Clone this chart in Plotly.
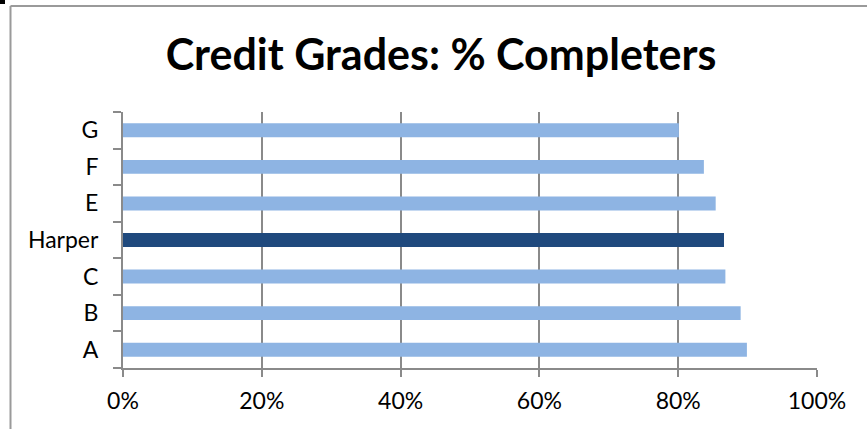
import plotly.graph_objects as go

# Share of completers by credit grade
grades = ["A", "B", "C", "Harper", "E", "F", "G"]
pct_completers = [0.899, 0.890, 0.868, 0.866, 0.854, 0.837, 0.801]
highlight = "Harper"

light_blue = "#8EB4E3"
dark_blue = "#1F497D"
bar_colors = [dark_blue if g == highlight else light_blue for g in grades]

x_ticks = [0, 0.2, 0.4, 0.6, 0.8, 1.0]
x_tick_labels = ["0%", "20%", "40%", "60%", "80%", "100%"]

W, H = 867, 429
ML, MR, MT, MB = 123, 50, 112, 61
line_gray = "#8A8A8A"

fig = go.Figure(
    go.Bar(
        x=pct_completers,
        y=grades,
        orientation="h",
        marker=dict(color=bar_colors, line=dict(width=0)),
        hoverinfo="x+y",
    )
)

fig.update_layout(
    width=W,
    height=H,
    margin=dict(l=ML, r=MR, t=MT, b=MB, pad=0),
    paper_bgcolor="white",
    plot_bgcolor="white",
    bargap=0.62,
    showlegend=False,
    font=dict(family="Lato, Open Sans, sans-serif", color="black"),
    title=dict(
        text="<b>Credit Grades: % Completers</b>",
        font=dict(family="Lato, Open Sans, sans-serif", size=43, color="black"),
        x=441 / W,
        xanchor="center",
        xref="container",
        y=1 - 55 / H,
        yanchor="middle",
    ),
)

fig.update_xaxes(
    range=[0, 1],
    tickvals=x_ticks,
    ticktext=x_tick_labels,
    showgrid=True,
    gridcolor=line_gray,
    gridwidth=2,
    zeroline=False,
    showline=True,
    linecolor=line_gray,
    linewidth=2,
    ticks="outside",
    ticklen=7,
    tickwidth=2,
    tickcolor=line_gray,
    tickfont=dict(size=23, color="black"),
    ticklabelstandoff=4,
    automargin=False,
    fixedrange=True,
)

fig.update_yaxes(
    categoryorder="array",
    categoryarray=grades,
    showgrid=False,
    showline=True,
    linecolor=line_gray,
    linewidth=2,
    ticks="outside",
    tickson="boundaries",
    ticklen=8,
    tickwidth=2,
    tickcolor=line_gray,
    tickfont=dict(size=23, color="black"),
    ticklabelstandoff=18,
    automargin=False,
    fixedrange=True,
)

# Chart frame (top and left edges) and the small corner marker
pw = W - ML - MR
ph = H - MT - MB
def px_x(v):
    return (v - ML) / pw
def px_y(v):
    return 1 - (v - MT) / ph

fig.add_shape(type="line", xref="paper", yref="paper",
              x0=px_x(10.5), x1=px_x(W + 5), y0=px_y(6), y1=px_y(6),
              line=dict(color="#9A9A9A", width=2), layer="above")
fig.add_shape(type="line", xref="paper", yref="paper",
              x0=px_x(10.5), x1=px_x(10.5), y0=px_y(6), y1=px_y(H + 5),
              line=dict(color="#9A9A9A", width=2), layer="above")
fig.add_shape(type="rect", xref="paper", yref="paper",
              x0=px_x(0), x1=px_x(5), y0=px_y(0), y1=px_y(4),
              fillcolor="black", line=dict(width=0), layer="above")

fig.write_html("out.html", config={"displayModeBar": False})
